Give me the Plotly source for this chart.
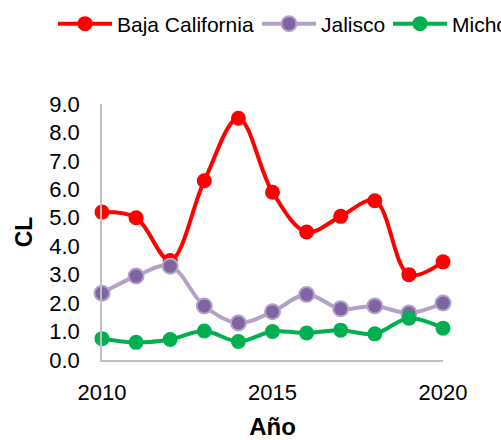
import plotly.graph_objects as go

# Data
years = [2010, 2011, 2012, 2013, 2014, 2015, 2016, 2017, 2018, 2019, 2020]
baja_california = [5.2, 5.0, 3.5, 6.3, 8.5, 5.9, 4.5, 5.05, 5.6, 3.0, 3.45]
jalisco = [2.35, 2.95, 3.3, 1.9, 1.3, 1.7, 2.3, 1.8, 1.9, 1.65, 2.0]
michoacan = [0.75, 0.62, 0.72, 1.02, 0.65, 1.0, 0.95, 1.05, 0.92, 1.47, 1.12]

series_names = ["Baja California", "Jalisco", "Michoacán"]
x_ticks = [2010, 2015, 2020]

FONT = "Liberation Sans, Arial, sans-serif"
W, H = 501, 440
ML, MR, MT, MB = 102, 58, 104, 80
PW = W - ML - MR
PH = H - MT - MB


def px_x(px):
    return (px - ML) / PW


def px_y(py):
    return 1 + (MT - py) / PH


fig = go.Figure()

fig.add_trace(go.Scatter(
    x=years, y=baja_california, name=series_names[0],
    mode="lines+markers",
    line=dict(color="#FF0000", width=4, shape="spline", smoothing=1),
    marker=dict(color="#FF0000", size=15),
    cliponaxis=False, legend="legend",
))
fig.add_trace(go.Scatter(
    x=years, y=jalisco, name=series_names[1],
    mode="lines+markers",
    line=dict(color="#B3A2C7", width=4, shape="spline", smoothing=1),
    marker=dict(color="#8064A2", size=15, line=dict(color="#B3A2C7", width=2)),
    cliponaxis=False, legend="legend2",
))
fig.add_trace(go.Scatter(
    x=years, y=michoacan, name=series_names[2],
    mode="lines+markers",
    line=dict(color="#00B050", width=4, shape="spline", smoothing=1),
    marker=dict(color="#00B050", size=15),
    cliponaxis=False, legend="legend3",
))

legend_common = dict(
    orientation="h", xanchor="left", yanchor="middle",
    font=dict(family=FONT, size=21, color="#000000"),
    bgcolor="rgba(0,0,0,0)", borderwidth=0, itemwidth=54,
)

fig.update_layout(
    width=W, height=H,
    margin=dict(l=ML, r=MR, t=MT, b=MB, pad=0, autoexpand=False),
    paper_bgcolor="white", plot_bgcolor="white",
    font=dict(family=FONT, color="#000000"),
    showlegend=True,
    legend=dict(x=px_x(53), y=px_y(24), **legend_common),
    legend2=dict(x=px_x(257), y=px_y(24), **legend_common),
    legend3=dict(x=px_x(388), y=px_y(24), **legend_common),
)

fig.update_xaxes(
    range=[2010, 2020], tickvals=x_ticks, ticktext=[str(v) for v in x_ticks],
    showgrid=False, zeroline=False, showline=True,
    linecolor="#BFBFBF", linewidth=1.5, ticks="",
    tickfont=dict(family=FONT, size=22, color="#000000"),
    ticklabelstandoff=12,
    title=dict(text="<b>Año</b>", font=dict(family=FONT, size=24, color="#000000"), standoff=15),
)
fig.update_yaxes(
    range=[0, 9], dtick=1, tick0=0, tickformat=".1f",
    showgrid=False, zeroline=False, showline=True,
    linecolor="#BFBFBF", linewidth=1.5, ticks="",
    tickfont=dict(family=FONT, size=22, color="#000000"),
    ticklabelstandoff=16,
    title=dict(text="<b>CL</b>", font=dict(family=FONT, size=23, color="#000000"), standoff=10),
)

fig.write_html("out.html")
